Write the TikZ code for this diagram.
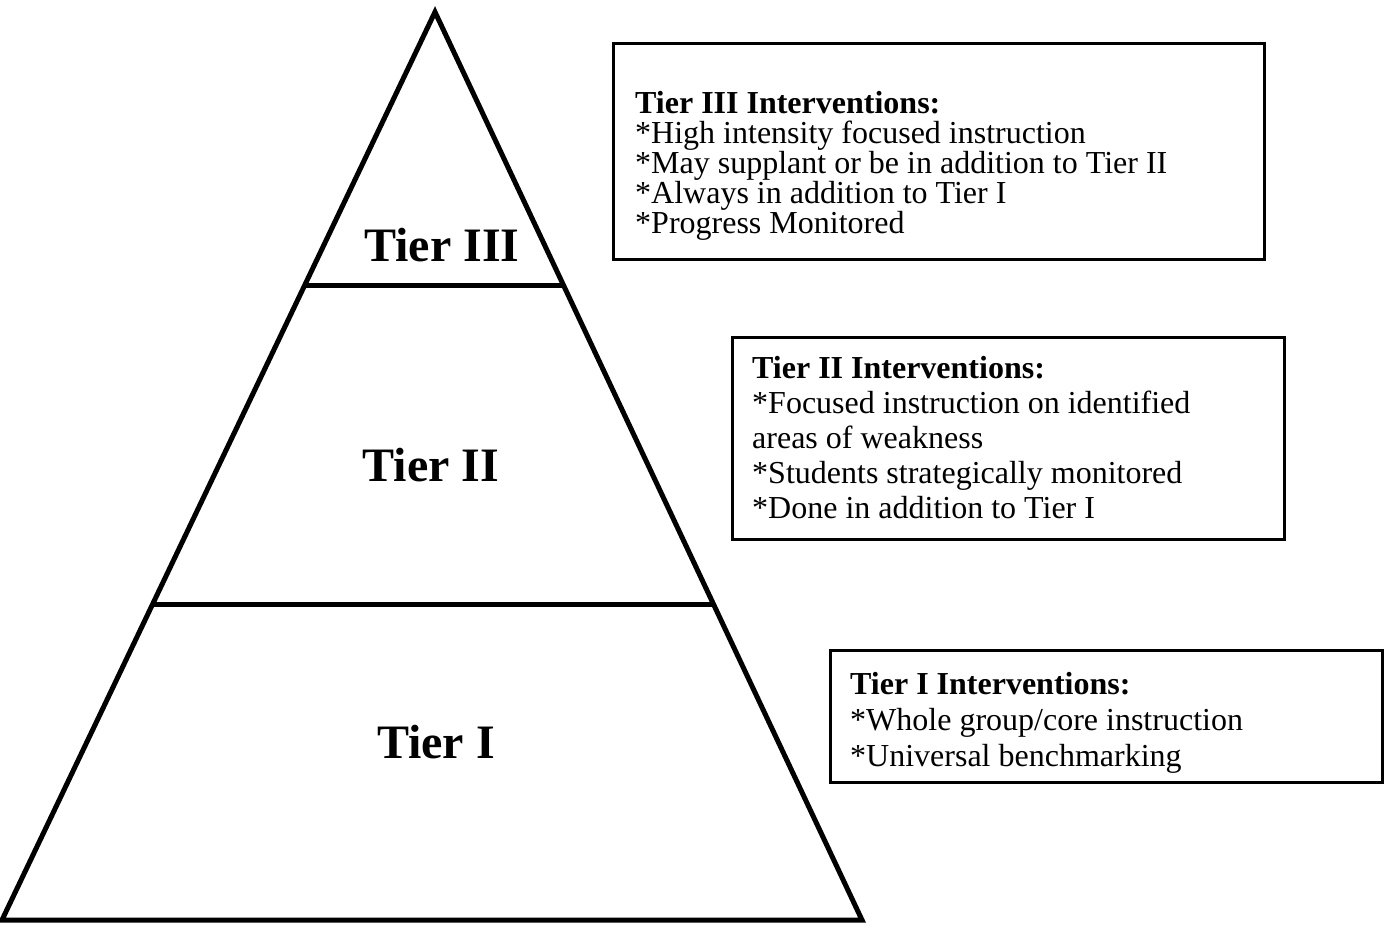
\documentclass[tikz,border=0pt]{standalone}
\usepackage{fontspec}
\setmainfont{Liberation Serif}
\usetikzlibrary{calc}
\tikzset{
  pyr_line/.style = {draw=black, line width=5pt},
  tier_lbl/.style = {inner sep=0pt, font=\fontsize{48}{50}\selectfont\bfseries},
  tier_box/.style = {draw=black, line width=2.5pt, inner sep=0pt, anchor=north west},
  box_txt/.style  = {inner sep=0pt, anchor=north west, align=left}}

\begin{document}
\begin{tikzpicture}[x=1pt, y=-1pt]
\useasboundingbox (0,0) rectangle (1389,924);

% pyramid
\coordinate (apex) at (435,12);
\coordinate (bl) at (2,920);
\coordinate (br) at (862,920);
\coordinate (cut3l) at ($(apex)!0.3007!(bl)$);
\coordinate (cut3r) at ($(apex)!0.3007!(br)$);
\coordinate (cut2l) at ($(apex)!0.652!(bl)$);
\coordinate (cut2r) at ($(apex)!0.652!(br)$);
\draw[pyr_line] (apex) -- (bl) -- (br) -- cycle;
\draw[pyr_line] (cut3l) -- (cut3r);
\draw[pyr_line] (cut2l) -- (cut2r);

\node[tier_lbl] (lbl_III) at (442,245) {Tier III};
\node[tier_lbl] (lbl_II) at (431,465) {Tier II};
\node[tier_lbl] (lbl_I) at (436,742) {Tier I};

% intervention boxes
\node[tier_box, minimum width=651pt, minimum height=216pt] (box_III) at (612,42) {};
\node[box_txt, font=\fontsize{32}{30}\selectfont] (txt_III) at (635,91) {%
  \textbf{Tier III Interventions:}\\
  *High intensity focused instruction\\
  *May supplant or be in addition to Tier II\\
  *Always in addition to Tier I\\
  *Progress Monitored};

\node[tier_box, minimum width=552pt, minimum height=202pt] (box_II) at (731,336) {};
\node[box_txt, font=\fontsize{32}{35}\selectfont] (txt_II) at (752,356) {%
  \textbf{Tier II Interventions:}\\
  *Focused instruction on identified\\
  areas of weakness\\
  *Students strategically monitored\\
  *Done in addition to Tier I};

\node[tier_box, minimum width=552pt, minimum height=132pt] (box_I) at (829,649) {};
\node[box_txt, font=\fontsize{32}{36}\selectfont] (txt_I) at (850,672) {%
  \textbf{Tier I Interventions:}\\
  *Whole group/core instruction\\
  *Universal benchmarking};
\end{tikzpicture}
\end{document}
